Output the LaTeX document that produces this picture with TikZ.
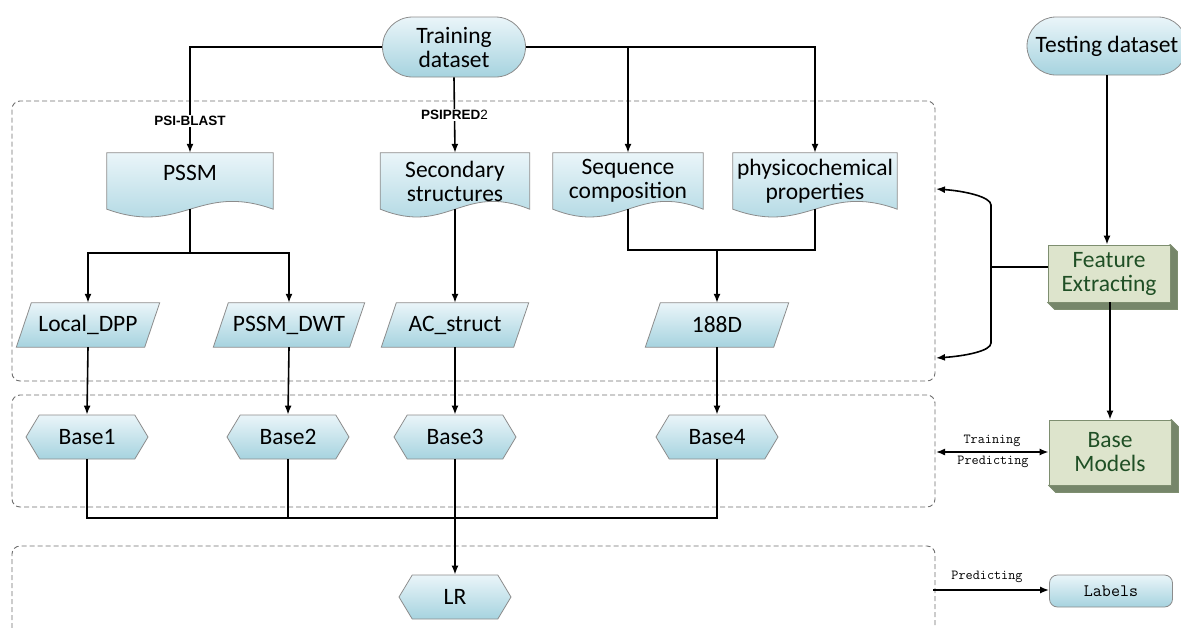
\documentclass[tikz,border=0pt]{standalone}
\usepackage{fontspec}
\setmainfont{Carlito}
\newfontfamily\arialfont{Liberation Sans}
\usetikzlibrary{shapes.geometric,shapes.misc,shapes.symbols,arrows.meta,calc}
\pgfdeclarelayer{bg}
\pgfsetlayers{bg,main}
\definecolor{ctop}{HTML}{EAF5F9}
\definecolor{cbot}{HTML}{A6D3DF}
\definecolor{cedge}{HTML}{8C8C8C}
\definecolor{gfront}{HTML}{DDE4CC}
\definecolor{gside}{HTML}{76866A}
\definecolor{gedge}{HTML}{7E8E70}
\definecolor{gtext}{HTML}{1F4F25}
\definecolor{dashc}{HTML}{6E6E6E}
\newcommand\docshape[1]{%
  \begin{pgfonlayer}{bg}
  \shadedraw[top color=ctop,bottom color=cbot,draw=cedge,line width=0.8pt]
    (#1.north west) -- (#1.north east) -- (#1.south east)
    .. controls ($(#1.south east)!0.45!(#1.south west)+(0,-27)$) and ($(#1.south west)!0.45!(#1.south east)+(0,27)$) .. (#1.south west) -- cycle;
  \end{pgfonlayer}}
\newcommand\paral[1]{%
  \begin{pgfonlayer}{bg}
  \shadedraw[top color=ctop,bottom color=cbot,draw=cedge,line width=0.8pt]
    ($(#1.south west)+(-7.5,0)$) -- ($(#1.south east)+(-7.5,0)$) -- ($(#1.north east)+(7.5,0)$) -- ($(#1.north west)+(7.5,0)$) -- cycle;
  \end{pgfonlayer}}
\newcommand\boxdepth[1]{%
  \begin{pgfonlayer}{bg}
  \filldraw[fill=gside,draw=gedge,line width=0.8pt] (#1.north east) -- ($(#1.north east)+(7,7)$) -- ($(#1.south east)+(7,7)$) -- ($(#1.south west)+(7,7)$) -- (#1.south west) -- cycle;
  \end{pgfonlayer}}
\begin{document}
\begin{tikzpicture}[x=1pt,y=-1pt,
  every node/.style={font=\fontsize{23.5}{24}\selectfont, align=center, inner sep=2pt},
  bluefill/.style={top color=ctop, bottom color=cbot, draw=cedge, line width=0.8pt},
  term/.style={bluefill, rounded rectangle, minimum height=60, minimum width=147},
  docnode/.style={minimum height=56, inner sep=0pt},
  paranode/.style={minimum height=44, inner sep=0pt},
  hexa/.style={bluefill, signal, signal to=west and east, signal pointer angle=118, minimum width=122, minimum height=44, inner sep=0pt},
  green3d/.style={fill=gfront, draw=gedge, line width=0.8pt, text=gtext, minimum width=122},
  panel/.style={draw=dashc, dashed, dash pattern=on 5pt off 3pt, line width=0.9pt, rounded corners=8pt, minimum width=923},
  conn/.style={line width=1.6pt, black},
  arr/.style={conn, -{Latex[length=9pt,width=7pt]}},
  darr/.style={conn, {Latex[length=9pt,width=7pt]}-{Latex[length=9pt,width=7pt]}},
  lblb/.style={font=\arialfont\bfseries\fontsize{13.5}{15}\selectfont, fill=white, inner sep=1pt},
  lblm/.style={font=\ttfamily\fontsize{13.8}{15}\selectfont, inner sep=1pt}
]
\useasboundingbox (0,0) rectangle (1181,627);
\clip (0,0) rectangle (1181,627);

% panels
\node[panel, minimum height=280] (p1) at (473.5,241) {};
\node[panel, minimum height=112] (p2) at (473.5,451) {};
\draw[draw=dashc, dash pattern=on 5pt off 3pt, line width=0.9pt, rounded corners=8pt] (12,660) -- (12,546) -- (935,546) -- (935,660);

% top nodes
\node[term] (train) at (454,47) {Training\\dataset};
\node[term, minimum width=164, minimum height=58] (test) at (1107,46) {Testing dataset};

% documents
\node[docnode, minimum width=166, text depth=17pt] (pssm) at (190,181) {PSSM};
\node[docnode, minimum width=149] (sec) at (455,181) {Secondary\\structures};
\node[docnode, minimum width=150] (seq) at (628,181) {Sequence\\composition};
\node[docnode, minimum width=164] (phys) at (815,181) {physicochemical\\properties};
\docshape{pssm}\docshape{sec}\docshape{seq}\docshape{phys}

% features
\node[paranode, minimum width=128] (local) at (88,325) {Local\_DPP};
\node[paranode, minimum width=136] (dwt) at (289,325) {PSSM\_DWT};
\node[paranode, minimum width=132] (ac) at (455,325) {AC\_struct};
\node[paranode, minimum width=128] (d188) at (717,325) {188D};
\paral{local}\paral{dwt}\paral{ac}\paral{d188}

% base classifiers
\node[hexa] (b1) at (87,437) {Base1};
\node[hexa] (b2) at (288,437) {Base2};
\node[hexa] (b3) at (455,437) {Base3};
\node[hexa] (b4) at (717,437) {Base4};
\node[hexa, minimum width=112] (lr) at (455,597) {LR};

% right side
\node[green3d, minimum height=57] (fe) at (1109,273.5) {Feature\\Extracting};
\node[green3d, minimum height=65] (bm) at (1110,452.5) {Base\\Models};
\boxdepth{fe}\boxdepth{bm}
\node[bluefill, rounded corners=8pt, minimum width=123, minimum height=32, font=\ttfamily\fontsize{17.5}{19}\selectfont] (lab) at (1111,591) {Labels};

% connectors from training dataset
\draw[arr] (train.west) -| (pssm.north) node[lblb, pos=0.85] (l1) {PSI-BLAST};
\draw[arr] (train.south) -- (sec.north) node[lblb, pos=0.5] (l2) {PSIPRED{\mdseries 2}};
\draw[arr] (train.east) -| (phys.north);
\coordinate (tj) at (seq.north |- train.east);
\draw[arr] (tj) -- (seq.north);

% PSSM branch
\coordinate (pj) at (190,253);
\draw[conn] (pssm.south) -- (pj);
\draw[arr] (pj) -| (local.north);
\draw[arr] (pj) -| (dwt.north);
\draw[arr] (sec.south) -- (ac.north);
\coordinate (sj) at (717,250);
\draw[conn] (seq.south) |- (sj);
\draw[conn] (phys.south) |- (sj);
\draw[arr] (sj) -- (d188.north);

% to base
\draw[arr] (local.south) -- (b1.north);
\draw[arr] (dwt.south) -- (b2.north);
\draw[arr] (ac.south) -- (b3.north);
\draw[arr] (d188.south) -- (b4.north);

\coordinate (bj) at (455,518);
\draw[conn] (b1.south) |- (bj) -| (b4.south);
\draw[conn] (b2.south) -- (b2.south |- bj);
\draw[arr] (b3.south) -- (lr.north);

% right side connectors
\draw[arr] (test.south) -- (test.south |- fe.north);
\draw[arr] (fe.south -| bm.north) -- (bm.north);
\coordinate (fj) at (991,267);
\coordinate (t1) at (936,189);
\coordinate (t2) at (936,358);
\draw[conn] (fe.west |- fj) -- (fj);
\draw[arr] (fj) -- (991,205) .. controls (991,197) and (965,191) .. (t1);
\draw[arr] (fj) -- (991,343) .. controls (991,351) and (965,356) .. (t2);

\coordinate (c1) at (936,452);
\draw[darr] (c1) -- (c1 -| bm.west);
\node[lblm] (tr) at (992,441) {Training};
\node[lblm] (pr) at (993,462) {Predicting};
\coordinate (c2) at (933,590);
\draw[arr] (c2) -- (c2 -| lab.west);
\node[lblm] (pr2) at (987,577) {Predicting};
\end{tikzpicture}
\end{document}
